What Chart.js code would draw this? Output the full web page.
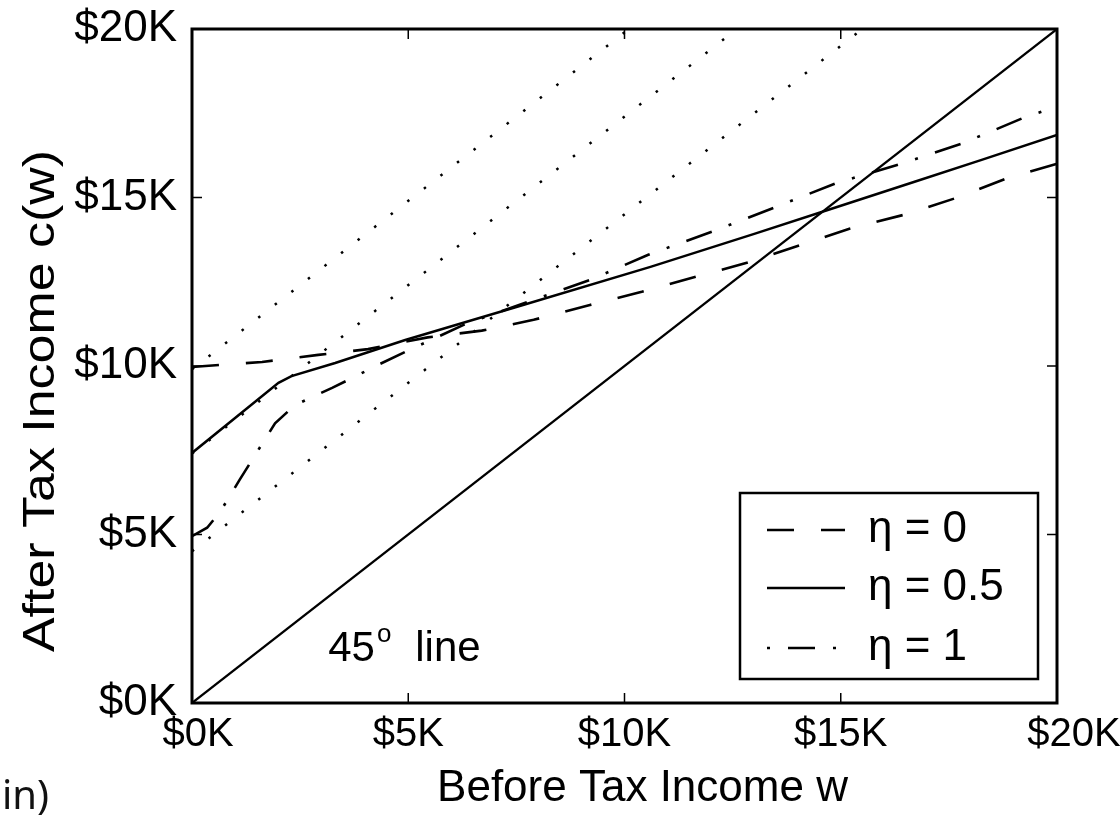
<!DOCTYPE html>
<html>
<head>
<meta charset="utf-8">
<script src="https://cdn.jsdelivr.net/npm/chart.js@4.4.1/dist/chart.umd.min.js"></script>
<style>
  html, body { margin: 0; padding: 0; background: #fff; }
  #wrap { position: relative; width: 1120px; height: 817px; }
  #note { position: absolute; left: 2px; top: 766px; font: 40px "Noto Sans", "Open Sans", sans-serif; color: #111; }
</style>
</head>
<body>
<div id="wrap">
  <canvas id="taxChart"></canvas>
  <div id="note">in)</div>
</div>
<script>
// all money values in $K
var tickVals = [0, 5, 10, 15, 20];
var tickLabels = ['$0K', '$5K', '$10K', '$15K', '$20K'];

// eta = 0 (dashed)
var wEta0 = [0, 1.62, 2.92, 4.07, 5.45, 6.7, 7.9, 9.2, 10.4, 11.65, 12.85, 14.1, 15.2, 16.5, 17.7, 18.9, 20];
var cEta0 = [9.97, 10.12, 10.33, 10.5, 10.85, 11.05, 11.37, 11.81, 12.2, 12.65, 13.07, 13.6, 14.07, 14.5, 15.0, 15.6, 16.0];

// eta = 0.5 (solid)
var wEta05 = [0, 2.0, 2.3, 3.31, 4.93, 7.5, 10.6, 13.0, 14.7, 16.69, 18.24, 20];
var cEta05 = [7.42, 9.5, 9.7, 10.09, 10.77, 11.75, 12.94, 13.92, 14.63, 15.46, 16.11, 16.86];

// eta = 1 (dash-dot)
var wEta1 = [0, 0.35, 0.65, 1.1, 1.46, 1.92, 2.38, 2.78, 3.24, 3.73, 4.2, 4.93, 6.35, 7.75, 9.2, 10.55, 12.05, 13.5, 14.9, 16.4, 17.8, 19.2, 20];
var cEta1 = [4.95, 5.2, 5.67, 6.62, 7.36, 8.3, 8.84, 9.08, 9.35, 9.66, 9.97, 10.42, 11.26, 11.9, 12.55, 13.3, 14.0, 14.72, 15.43, 16.0, 16.6, 17.35, 17.7];

// dotted budget lines
var wDotA = [0, 10.1],  cDotA = [9.9, 20];
var wDotB = [0, 12.6],  cDotB = [7.4, 20];
var wDotC = [0, 15.5],  cDotC = [4.5, 20];

// 45 degree line
var w45 = [0, 20], c45 = [0, 20];

var xTitle = 'Before Tax Income w';
var yTitle = 'After Tax Income c(w)';

var fontFam = '"Liberation Sans", Arial, Helvetica, sans-serif';
Chart.defaults.font.family = fontFam;
Chart.defaults.color = '#000';

function pts(w, c) {
  return w.map(function(v, i) { return {x: v, y: c[i]}; });
}

function lineSet(label, w, c, dash, width, legend) {
  return {
    label: label,
    data: pts(w, c),
    showLine: true,
    pointRadius: 0,
    borderColor: '#000',
    borderWidth: width,
    borderDash: dash,
    tension: 0,
    inLegend: legend
  };
}

var datasets = [
  lineSet('dotA', wDotA, cDotA, [2.5, 18.5], 2.5, false),
  lineSet('dotB', wDotB, cDotB, [2.5, 18.5], 2.5, false),
  lineSet('dotC', wDotC, cDotC, [2.5, 18.5], 2.5, false),
  lineSet('45', w45, c45, [], 2.2, false),
  lineSet('η = 0', wEta0, cEta0, [27, 27], 2.6, true),
  lineSet('η = 0.5', wEta05, cEta05, [], 2.5, true),
  lineSet('η = 1', wEta1, cEta1, [27, 18, 3, 18], 2.6, true)
];

var boxPlugin = {
  id: 'boxPlugin',
  afterDatasetsDraw: function(chart) {
    var ctx = chart.ctx, a = chart.chartArea;
    var xs = chart.scales.x, ys = chart.scales.y;
    ctx.save();
    ctx.strokeStyle = '#000';
    ctx.fillStyle = '#000';

    // frame
    ctx.lineWidth = 3;
    ctx.strokeRect(a.left, a.top, a.right - a.left, a.bottom - a.top);

    // inward ticks on all sides
    ctx.lineWidth = 1.5;
    tickVals.forEach(function(v) {
      var px = xs.getPixelForValue(v), py = ys.getPixelForValue(v);
      ctx.beginPath();
      ctx.moveTo(px, a.bottom); ctx.lineTo(px, a.bottom - 10);
      ctx.moveTo(px, a.top); ctx.lineTo(px, a.top + 10);
      ctx.moveTo(a.left, py); ctx.lineTo(a.left + 10, py);
      ctx.moveTo(a.right, py); ctx.lineTo(a.right - 10, py);
      ctx.stroke();
    });

    // x tick labels (end labels sit a little outward in the original)
    var nudge = [6, 0, 0, 0, 17];
    ctx.font = '40px ' + fontFam;
    ctx.textAlign = 'center';
    ctx.textBaseline = 'top';
    tickVals.forEach(function(v, i) {
      ctx.fillText(tickLabels[i], xs.getPixelForValue(v) + nudge[i], a.bottom + 12);
    });

    // axis titles (scan is slightly stretched vertically)
    ctx.font = '44px ' + fontFam;
    ctx.textAlign = 'center';
    ctx.textBaseline = 'middle';
    ctx.fillText(xTitle, (a.left + a.right) / 2 + 18, 789);
    ctx.save();
    ctx.translate(42, (a.top + a.bottom) / 2 + 35);
    ctx.rotate(-Math.PI / 2);
    ctx.scale(1.18, 1);
    ctx.fillText(yTitle, 0, 0);
    ctx.restore();

    // 45 degree label
    var lx = xs.getPixelForValue(3.15), ly = ys.getPixelForValue(1.25);
    ctx.textBaseline = 'alphabetic';
    ctx.textAlign = 'left';
    ctx.font = '42px ' + fontFam;
    ctx.fillText('45', lx, ly);
    var w45txt = ctx.measureText('45').width;
    ctx.font = '26px ' + fontFam;
    ctx.fillText('o', lx + w45txt + 2, ly - 19);
    ctx.font = '42px ' + fontFam;
    ctx.fillText('line', lx + 87, ly);

    // legend box
    var bx1 = a.right - 19, by1 = a.bottom - 24;
    var bx0 = bx1 - 298, by0 = by1 - 186;
    ctx.fillStyle = '#fff';
    ctx.fillRect(bx0, by0, bx1 - bx0, by1 - by0);
    ctx.lineWidth = 2.5;
    ctx.strokeRect(bx0, by0, bx1 - bx0, by1 - by0);
    ctx.fillStyle = '#000';
    var rows = [37, 95, 155];
    var items = chart.data.datasets.filter(function(d) { return d.inLegend; });
    items.forEach(function(d, i) {
      var y = by0 + rows[i];
      ctx.save();
      ctx.lineWidth = 2.5;
      ctx.setLineDash(d.borderDash);
      ctx.lineDashOffset = d.borderDash.length === 4 ? 45 : 0;
      ctx.beginPath();
      ctx.moveTo(bx0 + 27, y);
      ctx.lineTo(bx0 + 105, y);
      ctx.stroke();
      ctx.restore();
      ctx.font = '44px ' + fontFam;
      ctx.textBaseline = 'middle';
      ctx.fillText(d.label, bx0 + 128, y);
    });
    ctx.restore();
  }
};

new Chart(document.getElementById('taxChart'), {
  type: 'scatter',
  data: { datasets: datasets },
  options: {
    responsive: true,
    maintainAspectRatio: false,
    animation: false,
    layout: { padding: { top: 29, right: 63, bottom: 0, left: 0 } },
    plugins: { legend: { display: false }, tooltip: { enabled: false } },
    scales: {
      x: {
        type: 'linear', min: 0, max: 20,
        afterBuildTicks: function(s) { s.ticks = tickVals.map(function(v) { return {value: v}; }); },
        ticks: { display: false },
        grid: { display: false, drawTicks: false },
        border: { display: false },
        afterFit: function(s) { s.height = 114; s.paddingLeft = 20; s.paddingRight = 20; }
      },
      y: {
        type: 'linear', min: 0, max: 20,
        afterBuildTicks: function(s) { s.ticks = tickVals.map(function(v) { return {value: v}; }); },
        ticks: {
          callback: function(v) { return tickLabels[tickVals.indexOf(v)]; },
          font: { size: 44 }, color: '#000', padding: 15, autoSkip: false
        },
        grid: { display: false, drawTicks: false },
        border: { display: false },
        afterFit: function(s) { s.width = 192; s.paddingTop = 20; s.paddingBottom = 20; }
      }
    }
  },
  plugins: [boxPlugin]
});
</script>
</body>
</html>
